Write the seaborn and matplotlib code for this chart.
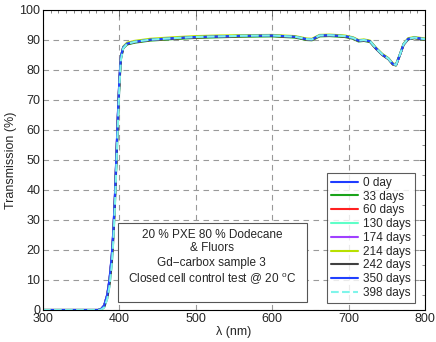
import matplotlib
matplotlib.use("Agg")
import matplotlib.pyplot as plt
import seaborn as sns
import pandas as pd
from matplotlib.lines import Line2D
from matplotlib.patches import Rectangle
from matplotlib.ticker import MultipleLocator

sns.set_style("white")
plt.rcParams['font.family'] = ['Liberation Sans', 'DejaVu Sans']
plt.rcParams['mathtext.fontset'] = 'custom'
plt.rcParams['mathtext.rm'] = 'Liberation Sans'

wavelength = [300, 360, 372, 376, 380, 384, 387, 390, 392, 394, 396, 398, 400, 402, 405,
              410, 420, 440, 470, 500, 530, 560, 600, 630, 645, 652, 662, 675, 695, 706,
              713, 720, 728, 736, 744, 752, 758, 762, 767, 772, 778, 786, 800]

day0 = [0, 0, 0, 0.3, 1.5, 5, 10, 18, 26, 37, 51, 65, 77, 84.5, 87.6,
        88.8, 89.4, 90.1, 90.6, 91.0, 91.2, 91.4, 91.5, 91.1, 90.3, 90.2, 91.5, 91.6, 91.3, 90.7,
        89.8, 90.0, 89.6, 87.2, 85.2, 83.8, 82.0, 81.7, 85.0, 88.6, 90.4, 90.8, 90.3]
day33 = [0, 0, 0, 0.2, 1.3, 4.6, 9.5, 17, 25, 36, 50, 64, 76, 84, 87.3,
         88.5, 89.1, 89.8, 90.3, 90.7, 90.9, 91.1, 91.2, 90.8, 90.0, 89.9, 91.2, 91.3, 91.0, 90.4,
         89.5, 89.7, 89.3, 87.0, 85.0, 83.6, 81.8, 81.5, 84.8, 88.4, 90.2, 90.6, 90.1]
day60 = [0, 0, 0, 0.3, 1.4, 4.8, 9.8, 17.5, 25.5, 36.5, 50.5, 64.5, 76.5, 84.2, 87.5,
         88.7, 89.3, 90.0, 90.5, 90.9, 91.1, 91.3, 91.4, 91.0, 90.2, 90.1, 91.4, 91.5, 91.2, 90.6,
         89.7, 89.9, 89.5, 87.1, 85.1, 83.7, 81.9, 81.6, 84.9, 88.5, 90.3, 90.7, 90.2]
day130 = [0, 0, 0, 0.2, 1.2, 4.4, 9.2, 16.8, 24.8, 35.8, 49.8, 63.8, 76.2, 84.1, 87.5,
          88.8, 89.4, 90.1, 90.6, 91.0, 91.2, 91.4, 91.5, 91.1, 90.3, 90.2, 91.5, 91.6, 91.3, 90.7,
          89.8, 90.0, 89.6, 87.3, 85.3, 83.9, 82.1, 81.8, 85.1, 88.7, 90.4, 90.8, 90.3]
day174 = [0, 0, 0, 0.3, 1.4, 4.9, 9.9, 17.8, 25.8, 36.8, 50.8, 64.8, 76.8, 84.4, 87.6,
          88.8, 89.4, 90.1, 90.6, 91.0, 91.2, 91.4, 91.5, 91.1, 90.3, 90.2, 91.5, 91.6, 91.3, 90.7,
          89.8, 90.0, 89.6, 87.2, 85.2, 83.8, 82.0, 81.7, 85.0, 88.6, 90.4, 90.8, 90.3]
day214 = [0, 0, 0, 0.2, 1.3, 4.7, 9.6, 17.2, 25.2, 36.2, 50.2, 64.2, 76.4, 84.4, 87.8,
          89.1, 89.7, 90.4, 90.9, 91.3, 91.5, 91.6, 91.7, 91.3, 90.5, 90.4, 91.7, 91.8, 91.5, 90.9,
          90.0, 90.2, 89.8, 87.4, 85.4, 84.0, 82.2, 81.9, 85.2, 88.8, 90.6, 91.0, 90.5]
day242 = [0, 0, 0, 0.1, 0.9, 3.8, 8.2, 15.5, 23.5, 34.5, 48.5, 62.5, 75.0, 83.6, 87.2,
          88.6, 89.3, 90.0, 90.5, 90.9, 91.1, 91.3, 91.4, 91.0, 90.2, 90.1, 91.4, 91.5, 91.2, 90.6,
          89.7, 89.9, 89.5, 87.1, 85.1, 83.7, 81.9, 81.6, 84.9, 88.5, 90.3, 90.7, 90.2]
day350 = [0, 0, 0, 0.3, 1.5, 5.1, 10.2, 18.2, 26.2, 37.2, 51.2, 65.2, 77.2, 84.6, 87.6,
          88.8, 89.4, 90.1, 90.6, 91.0, 91.2, 91.4, 91.5, 91.1, 90.3, 90.2, 91.5, 91.6, 91.3, 90.7,
          89.8, 90.0, 89.6, 87.2, 85.2, 83.8, 82.0, 81.7, 85.0, 88.6, 90.4, 90.8, 90.3]
day398 = [0, 0, 0, 0.1, 0.8, 3.6, 7.8, 15.0, 22.8, 33.5, 47.5, 61.5, 74.5, 83.4, 87.2,
          88.7, 89.4, 90.1, 90.6, 91.0, 91.2, 91.4, 91.5, 91.1, 90.3, 90.2, 91.5, 91.6, 91.3, 90.7,
          89.8, 90.0, 89.6, 87.2, 85.2, 83.8, 82.0, 81.7, 85.0, 88.6, 90.4, 90.8, 90.3]

labels = ["0 day", "33 days", "60 days", "130 days", "174 days", "214 days",
          "242 days", "350 days", "398 days"]
series = [day0, day33, day60, day130, day174, day214, day242, day350, day398]
colors = ["#1f3cff", "#1aa31a", "#ff2020", "#5fffc8", "#a040ff", "#b8e000",
          "#404040", "#2040ff", "#7ff5ea"]
styles = ["-", "-", "-", "-", "-", "-", "-", "-", "--"]

fig = plt.figure(figsize=(4.36, 3.42), dpi=100)
ax = fig.add_axes([43/436, 1-310/342, 382/436, 300/342])

handles = []
for lab, vals, c, ls in zip(labels, series, colors, styles):
    df = pd.DataFrame({"wl": wavelength, "T": vals})
    sns.lineplot(data=df, x="wl", y="T", ax=ax, color=c, linestyle=ls,
                 linewidth=1.5, legend=False, sort=False)
    handles.append(Line2D([0], [0], color=c, linestyle=ls, linewidth=1.5, label=lab))

ax.set_xlim(300, 800)
ax.set_ylim(0, 100)
ax.xaxis.set_major_locator(MultipleLocator(100))
ax.yaxis.set_major_locator(MultipleLocator(10))
ax.xaxis.set_minor_locator(MultipleLocator(10))
ax.yaxis.set_minor_locator(MultipleLocator(5))
ax.grid(True, which="major", linestyle=(0, (5, 4)), color="#999999", linewidth=0.8)
ax.tick_params(which="both", direction="in", top=True, right=True, labelsize=9, pad=2)
ax.tick_params(which="major", length=4, width=0.6, color="#555555")
ax.tick_params(which="minor", length=2, width=0.5, color="#555555")
for sp in ax.spines.values():
    sp.set_color("black")
    sp.set_linewidth(0.8)
ax.set_xlabel("λ (nm)", fontsize=9, labelpad=1)
ax.set_ylabel("Transmission (%)", fontsize=9, labelpad=1.5)

ax.add_patch(Rectangle((398.6, 2.8), 645 - 398.6, 28.9 - 2.8, fill=True,
                       facecolor="white", edgecolor="#555555", linewidth=0.8, zorder=5))
txt_lines = ["20 % PXE 80 % Dodecane", "& Fluors", "Gd\u2212carbox sample 3",
             r"Closed cell control test @ 20 $^{\mathrm{o}}$C"]
for t, yv in zip(txt_lines, [25.0, 20.6, 15.8, 10.3]):
    ax.text(521, yv, t, ha="center", va="center", fontsize=8.5, zorder=6)

leg = ax.legend(handles=handles, loc="lower right", bbox_to_anchor=(0.974, 0.023),
                borderaxespad=0, fontsize=8.5, frameon=True, fancybox=False,
                handlelength=2.3, labelspacing=0.15, handletextpad=0.4,
                borderpad=0.35)
leg.get_frame().set_edgecolor("#333333")
leg.get_frame().set_linewidth(0.8)
leg.set_zorder(7)

fig.savefig("out.png", dpi=100)
